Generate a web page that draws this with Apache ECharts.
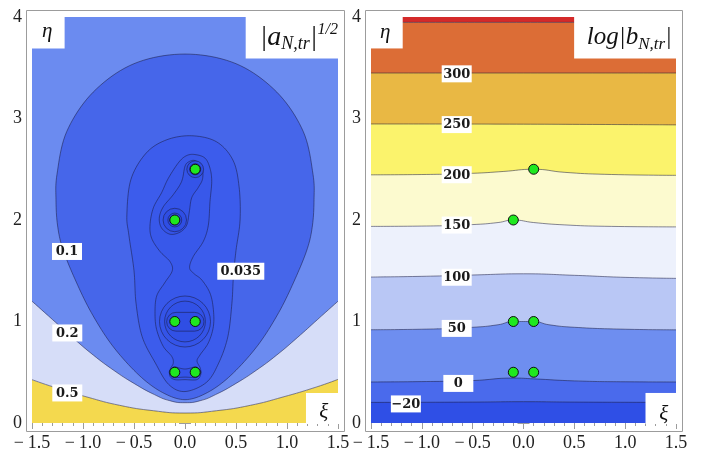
<!DOCTYPE html>
<html><head><meta charset="utf-8">
<script src="https://cdn.jsdelivr.net/npm/echarts@6/dist/echarts.min.js"></script>
<style>html,body{margin:0;padding:0;background:#fff}#c{width:704px;height:460px}</style>
</head><body><div id="c"></div>
<script>
// ================= DATA =================
// zero points (green dots), same in both panels
const dots = [[-0.1,2.0],[0.1,2.5],[-0.1,1.0],[0.1,1.0],[-0.1,0.5],[0.1,0.5]];

// ---- left panel: |a_N,tr|^(1/2) contours ----
const a05 = [[-1.5,0.427],[-1.29,0.355],[-0.96,0.256],[-0.64,0.174],[-0.31,0.121],[0,0.098],[0.31,0.121],[0.64,0.174],[0.96,0.256],[1.29,0.355],[1.5,0.43]];
const a02 = [[-1.5,1.2],[-1.3,1.02],[-1.1,0.84],[-0.9,0.67],[-0.7,0.52],[-0.5,0.39],[-0.3,0.28],[-0.15,0.22],[0,0.2],[0.15,0.22],[0.3,0.28],[0.5,0.39],[0.7,0.52],[0.9,0.67],[1.1,0.84],[1.3,1.02],[1.5,1.2]];
const a01 = [[0.0,3.635],[0.5,3.54],[0.9,3.26],[1.16,2.87],[1.255,2.45],[1.265,2.2],[1.25,1.95],[1.2,1.72],[1.08,1.42],[0.92,1.09],[0.71,0.76],[0.45,0.47],[0.22,0.3],[0.0,0.23],[-0.22,0.3],[-0.45,0.47],[-0.71,0.76],[-0.92,1.09],[-1.08,1.42],[-1.2,1.72],[-1.25,1.95],[-1.265,2.2],[-1.255,2.45],[-1.16,2.87],[-0.9,3.26],[-0.5,3.54]];
const a0035 = [[0.066,2.83],[0.31,2.77],[0.47,2.59],[0.53,2.33],[0.54,2.0],[0.5,1.7],[0.475,1.45],[0.46,1.18],[0.42,0.85],[0.33,0.59],[0.21,0.4],[0.0,0.31],[-0.16,0.38],[-0.29,0.59],[-0.42,0.85],[-0.48,1.18],[-0.5,1.5],[-0.55,1.85],[-0.57,2.05],[-0.53,2.4],[-0.38,2.66],[-0.18,2.79]];
const aPeanut = [[0.098,2.645],[0.196,2.61],[0.245,2.51],[0.262,2.38],[0.245,2.18],[0.229,1.95],[0.18,1.79],[0.081,1.64],[0.045,1.53],[0.09,1.47],[0.164,1.41],[0.245,1.28],[0.278,1.12],[0.278,0.95],[0.229,0.79],[0.147,0.67],[0.118,0.61],[0.15,0.54],[0.154,0.476],[0.115,0.427],[0,0.427],[-0.098,0.427],[-0.147,0.46],[-0.147,0.525],[-0.115,0.59],[-0.13,0.656],[-0.213,0.755],[-0.278,0.92],[-0.294,1.08],[-0.278,1.25],[-0.2,1.38],[-0.125,1.5],[-0.147,1.59],[-0.245,1.69],[-0.327,1.82],[-0.343,1.95],[-0.31,2.12],[-0.229,2.27],[-0.164,2.41],[-0.06,2.57],[0.017,2.635]];
const aUpperPair = [[0.098,2.585],[0.164,2.53],[0.173,2.41],[0.13,2.32],[0.066,2.22],[0.042,2.08],[0.017,1.95],[-0.049,1.88],[-0.147,1.86],[-0.229,1.92],[-0.252,2.02],[-0.213,2.13],[-0.115,2.25],[-0.033,2.38],[0.0,2.53],[0.04,2.575]];
const aLowerPair = [[-0.155,0.5],[-0.13,0.46],[-0.1,0.447],[0,0.452],[0.1,0.447],[0.13,0.46],[0.155,0.5],[0.13,0.54],[0.1,0.553],[0.05,0.54],[0,0.532],[-0.05,0.54],[-0.1,0.553],[-0.13,0.54]];
// rings around zeros: [centre x, centre y, radius]
const aRings = [[0.0,1.0,0.25],[0.0,1.0,0.2],[-0.1,2.0,0.115],[-0.1,2.0,0.068],[0.1,2.5,0.082],[0.1,2.5,0.055]];
// stadium around the middle pair: [x0, y0, x1, y1]
const aStadium = [[-0.18,0.905,0.186,1.09]];
const aLabels = [['0.1',-1.157,1.69],['0.2',-1.154,0.887],['0.5',-1.154,0.296],['0.035',0.547,1.494]];

// ---- right panel: log|b_N,tr| contours ----
const b350 = [[-1.5,3.947],[0,3.947],[1.5,3.947]];
const b300 = [[-1.5,3.448],[0,3.448],[1.5,3.448]];
const b250 = [[-1.5,2.946],[0,2.944],[1.5,2.937]];
const b200 = [[-1.5,2.445],[-1.0,2.448],[-0.5,2.46],[-0.2,2.478],[0.1,2.5],[0.4,2.47],[0.8,2.45],[1.5,2.44]];
const b150 = [[-1.5,1.937],[-1.0,1.94],[-0.5,1.955],[-0.25,1.975],[-0.1,2.0],[0.1,1.975],[0.4,1.952],[0.8,1.938],[1.5,1.932]];
const b100 = [[-1.5,1.438],[-1.0,1.445],[-0.5,1.458],[0,1.47],[0.5,1.455],[1.0,1.435],[1.5,1.425]];
const b50 = [[-1.5,0.919],[-1.0,0.924],[-0.5,0.943],[-0.25,0.968],[-0.1,1.0],[0.1,1.0],[0.25,0.968],[0.5,0.943],[1.0,0.924],[1.5,0.918]];
const b0 = [[-1.5,0.404],[-1.0,0.408],[-0.5,0.418],[-0.1,0.443],[0.1,0.435],[0.5,0.415],[1.0,0.406],[1.5,0.404]];
const bm20 = [[-1.5,0.203],[-0.5,0.206],[0,0.21],[0.5,0.206],[1.5,0.203]];
const bLabels = [['300',-0.657,3.44],['250',-0.657,2.94],['200',-0.657,2.446],['150',-0.657,1.95],['100',-0.657,1.436],['50',-0.657,0.932],['0',-0.641,0.39],['\u221220',-1.157,0.188]];

const xTicks = {min:-1.5, max:1.5, interval:0.5};
const yTicks = {min:0, max:4, interval:1};

// ================= STYLE =================
const lineCol = 'rgba(25,25,60,0.65)';
const frameCol = '#9c9c9c';
const serif = 'Liberation Serif';

const chart = echarts.init(document.getElementById('c'), null, {renderer:'canvas'});

function fmtX(v){ if (Math.abs(v)<1e-9) return '0.0'; return (v<0?'\u2212\u2009':'') + Math.abs(v).toFixed(1); }

function xAx(grid, pos, labels){
  return {type:'value', gridIndex:grid, position:pos, offset: pos==='bottom'?8:7,
    min:xTicks.min, max:xTicks.max, interval:xTicks.interval,
    axisLine:{show:false}, splitLine:{show:false},
    axisTick:{show:true, inside:true, length:6, lineStyle:{color:frameCol}},
    minorTick:{show:true, splitNumber:5, length:3, lineStyle:{color:frameCol}},
    axisLabel:{show:labels, margin:3, formatter:fmtX, fontFamily:serif, fontSize:18, color:'#222', showMinLabel:true, showMaxLabel:true}};
}
function yAx(grid, pos, labels){
  return {type:'value', gridIndex:grid, position:pos, offset:6,
    min:yTicks.min, max:yTicks.max, interval:yTicks.interval,
    axisLine:{show:false}, splitLine:{show:false},
    axisTick:{show:true, inside:true, length:6, lineStyle:{color:frameCol}},
    minorTick:{show:true, splitNumber:5, length:3, lineStyle:{color:frameCol}},
    axisLabel:{show:labels, margin:4, fontFamily:serif, fontSize:18, color:'#222'}};
}

function bandLine(data, ax, color, origin, withLine, z){
  return {type:'line', xAxisIndex:ax, yAxisIndex:ax, data, smooth:0.5, showSymbol:false, silent:true, z:z||2,
    lineStyle: withLine ? {color:lineCol, width:0.8} : {width:0, opacity:0},
    areaStyle:{color, opacity:1, origin}};
}
// closed Catmull-Rom outline through the projected contour points (rendering only)
function closedSpline(px){
  const n = px.length, out = [], S = 10;
  for (let i=0;i<n;i++){
    const p0=px[(i-1+n)%n], p1=px[i], p2=px[(i+1)%n], p3=px[(i+2)%n];
    for (let k=0;k<S;k++){
      const t=k/S, t2=t*t, t3=t2*t;
      const f = (a,b,c,d)=>0.5*((2*b)+(-a+c)*t+(2*a-5*b+4*c-d)*t2+(-a+3*b-3*c+d)*t3);
      out.push([f(p0[0],p1[0],p2[0],p3[0]), f(p0[1],p1[1],p2[1],p3[1])]);
    }
  }
  return out;
}
function poly(data, ax, fill, z){
  return {type:'custom', xAxisIndex:ax, yAxisIndex:ax, data, silent:true, z:z||3, clip:true,
    renderItem:(p, api)=>{
      if (p.dataIndex!==0) return null;
      return {type:'polygon', shape:{points:closedSpline(data.map(d=>api.coord(d)))},
        style:{fill, stroke:lineCol, lineWidth:0.8}};
    }};
}
function rings(data, ax, fills, z){
  return {type:'custom', xAxisIndex:ax, yAxisIndex:ax, data, silent:true, z:z||3,
    renderItem:(p, api)=>{
      const c = api.coord([api.value(0), api.value(1)]);
      const r = api.size([api.value(2), api.value(2)])[0];
      return {type:'circle', shape:{cx:c[0], cy:c[1], r}, style:{fill:fills[p.dataIndex], stroke:lineCol, lineWidth:0.8}};
    }};
}
function stadium(data, ax, fill, z){
  return {type:'custom', xAxisIndex:ax, yAxisIndex:ax, data, silent:true, z:z||3,
    renderItem:(p, api)=>{
      const a = api.coord([api.value(0), api.value(3)]);
      const b = api.coord([api.value(2), api.value(1)]);
      const h = b[1]-a[1];
      return {type:'rect', shape:{x:a[0], y:a[1], width:b[0]-a[0], height:h, r:h/2}, style:{fill, stroke:lineCol, lineWidth:0.8}};
    }};
}
function dotSeries(ax){
  return {type:'scatter', xAxisIndex:ax, yAxisIndex:ax, data:dots, symbolSize:10, silent:true, z:20,
    itemStyle:{color:'#1fe81f', borderColor:'#111', borderWidth:1, opacity:1}};
}

const series = [
  // left panel
  bandLine(a05, 0, '#f4d94e', 'start', false),
  bandLine(a05, 0, '#d6ddf8', 'end', true),
  bandLine(a02, 0, '#6b8bf0', 'end', true),
  poly(a01, 0, '#4666ea'),
  poly(a0035, 0, '#3c5cec'),
  poly(aPeanut, 0, '#3858ea'),
  poly(aUpperPair, 0, '#3454e8'),
  rings(aRings, 0, ['#3454e8','#3151e6','#2f4ee4','#2c4ae0','#2f4ee4','#2c4ae0']),
  stadium(aStadium, 0, '#2f4ee4', 4),
  poly(aLowerPair, 0, '#3454e8', 4),
  dotSeries(0),
  // right panel
  bandLine(b350, 2, '#d42a2a', 'end', false),
  bandLine(b350, 2, '#dc6d36', 'start', true),
  bandLine(b300, 2, '#e9b844', 'start', true),
  bandLine(b250, 2, '#fbf36c', 'start', true),
  bandLine(b200, 2, '#fcfacf', 'start', true),
  bandLine(b150, 2, '#edf1fc', 'start', true),
  bandLine(b100, 2, '#b9c7f5', 'start', true),
  bandLine(b50, 2, '#6e8ef0', 'start', true),
  bandLine(b0, 2, '#4a6aec', 'start', true),
  bandLine(bm20, 2, '#2f4fe6', 'start', true),
  dotSeries(2)
];

chart.setOption({
  animation:false,
  backgroundColor:'#fff',
  grid:[{left:32, top:17, width:306, height:406},{left:371, top:17, width:305, height:406}],
  xAxis:[xAx(0,'bottom',true), xAx(0,'top',false), xAx(1,'bottom',true), xAx(1,'top',false)],
  yAxis:[yAx(0,'left',true), yAx(0,'right',false), yAx(1,'left',true), yAx(1,'right',false)],
  series
});

// ---------- frames, white label boxes, texts ----------
function P(g, x, y){ return chart.convertToPixel({xAxisIndex:g*2, yAxisIndex:g*2}, [x,y]); }
const G = [];
function whiteBox(g, x0, y0, x1, y1){
  const a = P(g, x0, y1), b = P(g, x1, y0);
  G.push({type:'rect', z:50, silent:true, shape:{x:a[0], y:a[1], width:b[0]-a[0]+1, height:b[1]-a[1]+1}, style:{fill:'#fff'}});
}
function frame(g){
  const a = P(g, -1.5, 4), b = P(g, 1.5, 0);
  G.push({type:'rect', z:60, silent:true, shape:{x:Math.round(a[0]-6)+0.5, y:Math.round(a[1]-7)+0.5, width:Math.round(b[0]-a[0]+12), height:Math.round(b[1]-a[1]+15)}, style:{fill:'none', stroke:frameCol, lineWidth:1}});
}
function cLabel(g, t, x, y){
  const c = P(g, x, y);
  const w = Math.max(30, t.length*8.6+4);
  G.push({type:'rect', z:55, silent:true, shape:{x:c[0]-w/2, y:c[1]-8.5, width:w, height:17}, style:{fill:'#fff'}});
  G.push({type:'text', z:56, silent:true, x:c[0], y:c[1]+0.5, style:{text:t, fill:'#1a1a1a', font:'bold 13px "DejaVu Serif"', align:'center', verticalAlign:'middle'}});
}
function txt(g, x, y, text, rich, align, font){
  const c = P(g, x, y);
  G.push({type:'text', z:58, silent:true, x:c[0], y:c[1], style:Object.assign({text, fill:'#111', align:align||'center', verticalAlign:'middle', font: font||('italic 21px "'+serif+'"')}, rich?{rich}:{})});
}
frame(0); frame(1);
// left panel boxes
whiteBox(0, -1.5, 3.7, -1.19, 4);
whiteBox(0, 0.595, 3.6, 1.5, 4);
whiteBox(0, 1.186, 0, 1.5, 0.296);
// right panel boxes
whiteBox(1, -1.5, 3.7, -1.198, 4);
whiteBox(1, 0.498, 3.6, 1.5, 4);
whiteBox(1, 1.2, 0, 1.5, 0.296);
aLabels.forEach(l=>cLabel(0, l[0], l[1], l[2]));
bLabels.forEach(l=>cLabel(1, l[0], l[1], l[2]));
const richT = {
  m:{fontFamily:serif, fontStyle:'italic', fontSize:28, lineHeight:32, color:'#111'},
  s:{fontFamily:serif, fontStyle:'italic', fontSize:18, lineHeight:18, verticalAlign:'bottom', color:'#111'},
  p:{fontFamily:serif, fontStyle:'italic', fontSize:16, lineHeight:16, verticalAlign:'top', color:'#111'}
};
const richB = {
  m:{fontFamily:serif, fontStyle:'italic', fontSize:25, lineHeight:32, color:'#111'},
  s:{fontFamily:serif, fontStyle:'italic', fontSize:17, lineHeight:17, verticalAlign:'bottom', color:'#111'}
};
txt(0, -1.35, 3.855, '\u03b7');
txt(0, 1.5, 3.8, '{m||a}{s|N,tr}{m||}{p|1/2}', richT, 'right');
txt(0, 1.36, 0.1, '\u03be');
txt(1, -1.36, 3.85, '\u03b7');
txt(1, 1.46, 3.8, '{m|log|b}{s|N,tr}{m||}', richB, 'right');
txt(1, 1.38, 0.085, '\u03be');
chart.setOption({graphic:G});
</script></body></html>
